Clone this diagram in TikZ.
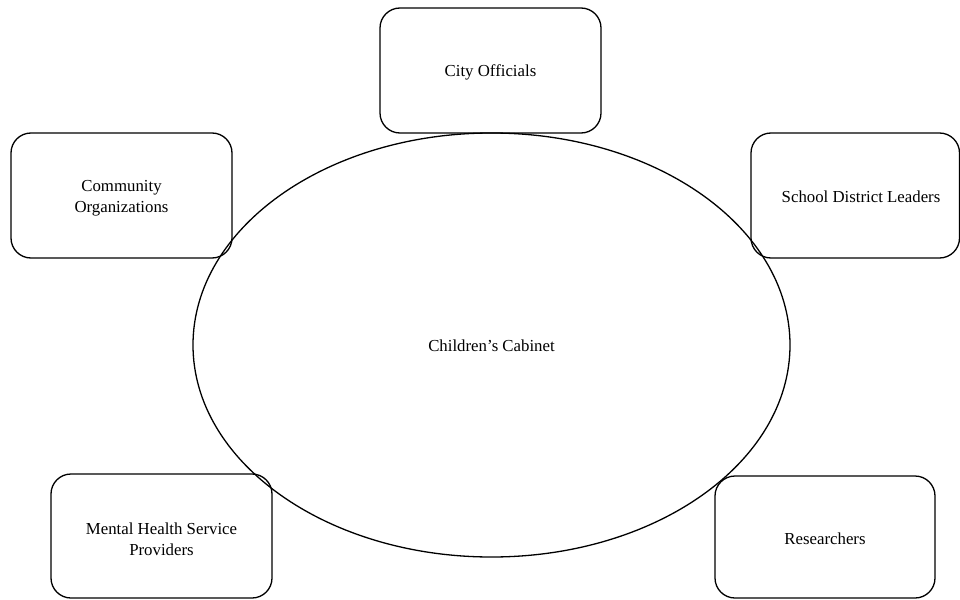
\documentclass[tikz,border=0pt]{standalone}
\usepackage{fontspec}
\setmainfont{Liberation Serif}
\begin{document}
\begin{tikzpicture}[x=1pt,y=-1pt,
  box/.style={draw=black, line width=1.3pt, rounded corners=20pt},
  lbl/.style={font=\fontsize{16.8}{21}\selectfont, align=center, inner sep=0pt},
  oval/.style={draw=black, line width=1.3pt}]
\useasboundingbox (0,0) rectangle (960,599);
\draw[oval] (491.5,345) ellipse [x radius=298.5, y radius=212];
\node[lbl] (cab) at (491.5,346) {Children’s Cabinet};
\draw[box] (380,8) rectangle (601,133);
\node[lbl] (city) at (490.5,72) {City Officials};
\draw[box] (11,133) rectangle (232,258);
\node[lbl] (comm) at (121.5,198.5) {Community\\Organizations};
\draw[box] (751,133) rectangle (959.5,258);
\node[lbl] (school) at (861,197) {School District Leaders};
\draw[box] (51,474) rectangle (272,598);
\node[lbl] (mental) at (161.5,539) {Mental Health Service\\Providers};
\draw[box] (715,476) rectangle (935,598);
\node[lbl] (res) at (825,539) {Researchers};
\end{tikzpicture}
\end{document}
